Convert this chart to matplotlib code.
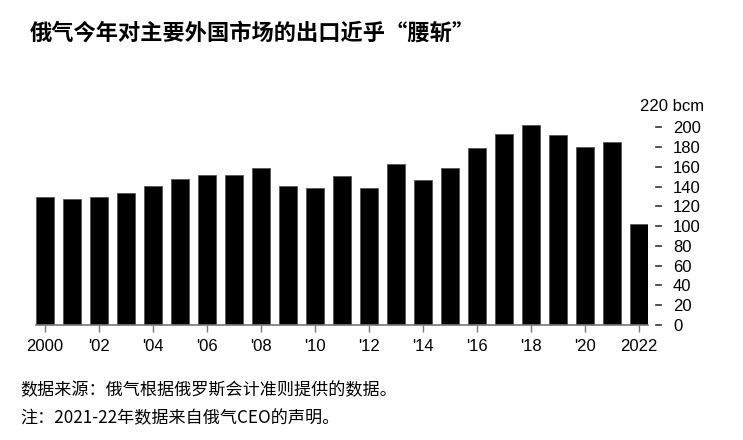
import matplotlib.pyplot as plt

# data (bcm)
years = list(range(2000, 2023))
exports = [129, 127, 129, 133.5, 141, 148, 151.5, 151.5, 159, 141, 139, 150.5,
           139, 163, 147, 159, 179, 193, 202, 192, 180, 185.5, 102]
xtick_years = list(range(2000, 2023, 2))
xtick_labels = ['2000', "'02", "'04", "'06", "'08", "'10", "'12", "'14",
                "'16", "'18", "'20", '2022']
ytick_vals = list(range(0, 201, 20))

title = '俄气今年对主要外国市场的出口近乎“腰斩”'
source = '数据来源：俄气根据俄罗斯会计准则提供的数据。'
note = '注：2021-22年数据来自俄气CEO的声明。'

cjk = ['Noto Sans CJK SC', 'DejaVu Sans']
num_font = 'Liberation Sans'

fig = plt.figure(figsize=(7.43, 4.40), dpi=100)
W, H = 743, 440
ax = fig.add_axes([36 / W, 115 / H, 612 / W, 217.5 / H])

ax.bar(years, exports, width=0.68, color='black', edgecolor='#555555', linewidth=0.6)
ax.set_xlim(1999.66, 2022.34)
ax.set_ylim(0, 220)

for s in ['top', 'left', 'right']:
    ax.spines[s].set_visible(False)
ax.spines['bottom'].set_color('#777777')
ax.spines['bottom'].set_linewidth(1.2)

ax.set_xticks(xtick_years)
ax.set_xticklabels(xtick_labels, fontfamily=num_font, fontsize=12)
ax.tick_params(axis='x', length=5, width=1, color='#777777', pad=5)

ax.yaxis.tick_right()
ax.set_yticks(ytick_vals)
ax.set_yticklabels([str(v) for v in ytick_vals], fontfamily=num_font, fontsize=12)
ax.tick_params(axis='y', length=0, pad=18)
# short dash marks offset from the plot edge
for v in ytick_vals:
    ax.plot([1.0 + 8 / 612, 1.0 + 13 / 612], [v, v], color='#333333', lw=1.2,
            transform=ax.get_yaxis_transform(), clip_on=False)
ax.text(1.0 - 8 / 612, 221, '220 bcm', transform=ax.get_yaxis_transform(),
        fontfamily=num_font, fontsize=12, va='center', ha='left')

fig.text(30 / W, 1 - 33 / H, title, fontfamily=cjk, fontsize=16, fontweight='bold',
         va='center', ha='left')
fig.text(20 / W, 1 - 390 / H, source, fontfamily=cjk, fontsize=12.3, va='center', ha='left')
fig.text(20 / W, 1 - 418 / H, note, fontfamily=cjk, fontsize=12.3, va='center', ha='left')

fig.savefig('out.png', dpi=100)
